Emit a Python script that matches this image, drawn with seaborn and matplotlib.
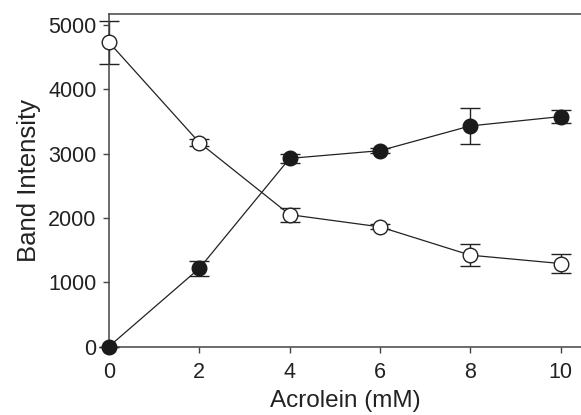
import matplotlib
matplotlib.use("Agg")
import matplotlib.pyplot as plt
import seaborn as sns
import pandas as pd
import numpy as np

acrolein = [0, 2, 4, 6, 8, 10]
open_vals = [4730, 3170, 2050, 1860, 1420, 1290]
open_err = [330, 57, 110, 40, 175, 150]
filled_vals = [0, 1215, 2925, 3045, 3430, 3575]
filled_err = [0, 120, 65, 40, 285, 105]

sns.set_theme(style="white")
plt.rcParams['font.family'] = ['Liberation Sans', 'DejaVu Sans']

fig = plt.figure(figsize=(5.81, 4.15), dpi=100)
ax = fig.add_axes([109/581, (415-346.5)/415, 1 - 109/581, (346.5-14)/415])

line_color = "#222222"
for vals, err in [(open_vals, open_err), (filled_vals, filled_err)]:
    ax.errorbar(acrolein, vals, yerr=err, fmt='none', ecolor=line_color,
                elinewidth=1.0, capsize=7.5, capthick=1.0, zorder=2)

df = pd.DataFrame({
    "x": acrolein * 2,
    "y": open_vals + filled_vals,
    "series": ["open"] * 6 + ["filled"] * 6,
})
sns.lineplot(data=df[df.series == "open"], x="x", y="y", ax=ax, color=line_color,
             linewidth=0.9, marker='o', markersize=10.5, markerfacecolor='white',
             markeredgecolor=line_color, markeredgewidth=1.0, zorder=3)
sns.lineplot(data=df[df.series == "filled"], x="x", y="y", ax=ax, color=line_color,
             linewidth=0.9, marker='o', markersize=10.5, markerfacecolor='#1a1a1a',
             markeredgecolor='#1a1a1a', markeredgewidth=1.0, zorder=3)

ax.set_xlim(0, 10.45)
ax.set_ylim(0, 5170)
ax.set_xticks([0, 2, 4, 6, 8, 10])
ax.set_yticks([0, 1000, 2000, 3000, 4000, 5000])
ax.set_xlabel("Acrolein (mM)", fontsize=17.5, color="#222222", labelpad=5)
ax.set_ylabel("Band Intensity", fontsize=18.5, color="#222222", labelpad=5)
ax.tick_params(axis='both', which='major', direction='out', length=4, width=1,
               color="#444444", labelsize=15.5, labelcolor="#222222", pad=5,
               bottom=True, left=True)
ax.tick_params(axis='x', pad=7)
for side in ['left', 'bottom', 'top']:
    ax.spines[side].set_visible(True)
    ax.spines[side].set_color("#444444")
    ax.spines[side].set_linewidth(1.1)
ax.spines['right'].set_visible(False)
for artist in ax.lines + ax.collections:
    artist.set_clip_on(False)

fig.savefig("out.png", dpi=100)
